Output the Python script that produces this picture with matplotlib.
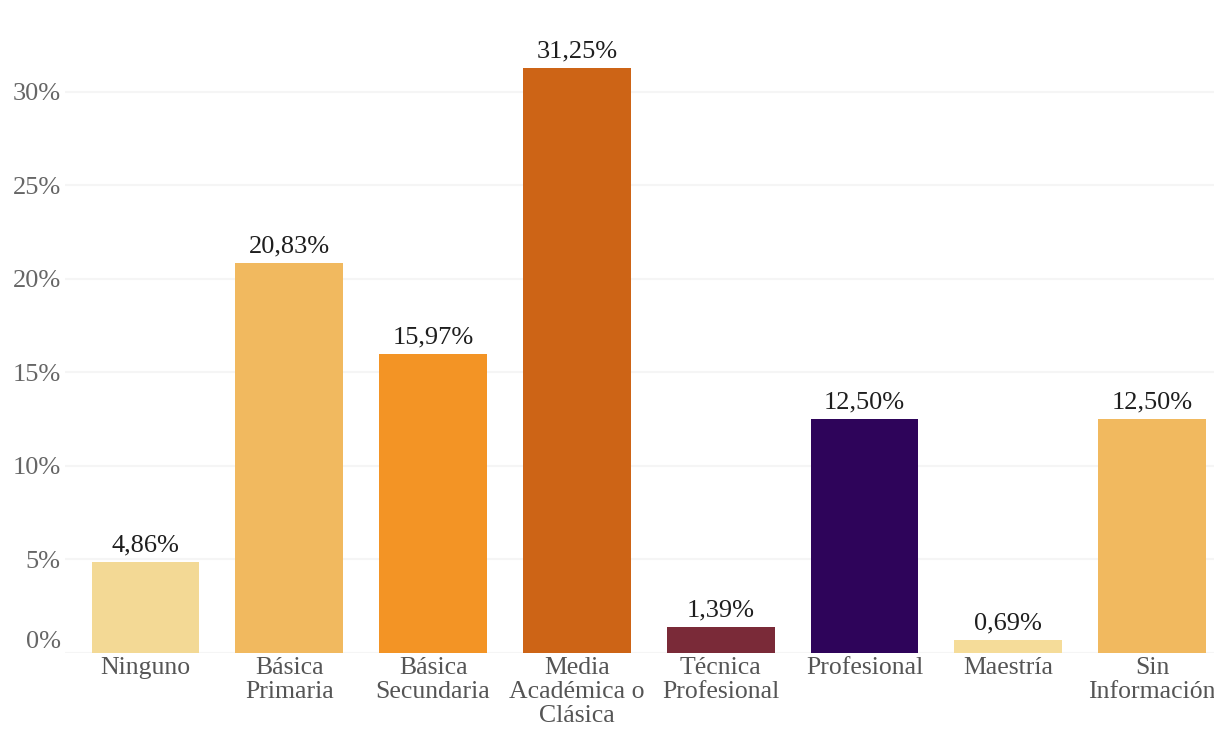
import matplotlib
matplotlib.use('Agg')
import matplotlib.pyplot as plt
import matplotlib.transforms as mtransforms
import numpy as np

# nivel educativo
categorias = ['Ninguno', 'Básica\nPrimaria', 'Básica\nSecundaria', 'Media\nAcadémica o\nClásica',
              'Técnica\nProfesional', 'Profesional', 'Maestría', 'Sin\nInformación']
porcentajes = [4.86, 20.83, 15.97, 31.25, 1.39, 12.50, 0.69, 12.50]
colores = ['#f3d995', '#f1b95f', '#f39425', '#cd6416', '#7a2a38', '#2e045a', '#f5dc99', '#f1b95f']
yticks = [0, 5, 10, 15, 20, 25, 30]

plt.rcParams['font.family'] = ['Liberation Serif', 'DejaVu Serif']

fig = plt.figure(figsize=(12.14, 7.45), dpi=100)
ax = fig.add_axes([0.0535, 0.1235, 0.9465, 0.8365])

x = np.arange(len(categorias))
bars = ax.bar(x, porcentajes, width=0.75, color=colores, zorder=2)

for b, v in zip(bars, porcentajes):
    ax.annotate(f'{v:.2f}%'.replace('.', ','), (b.get_x() + b.get_width() / 2, v),
                xytext=(0, 4), textcoords='offset points', ha='center', va='bottom',
                fontsize=19, color='#1e1e1e')

ax.set_xlim(-0.56, 7.43)
ax.set_ylim(0, 33.3)
ax.set_xticks(x)
ax.set_xticklabels(categorias, fontsize=18.5, color='#555555', linespacing=1.12)
ax.set_yticks(yticks)
ax.set_yticklabels([f'{t}%' for t in yticks], fontsize=19, color='#666666')
ax.tick_params(axis='both', length=0)
ax.tick_params(axis='x', pad=3)
ax.tick_params(axis='y', pad=3)

# la etiqueta del 0% va un poco más arriba
lbl0 = ax.get_yticklabels()[0]
lbl0.set_transform(lbl0.get_transform() + mtransforms.ScaledTranslation(0, 13 / 100, fig.dpi_scale_trans))

ax.grid(axis='y', color='#f5f5f5', linewidth=1.5, zorder=0)
for s in ax.spines.values():
    s.set_visible(False)

fig.savefig('out.png', dpi=100)
